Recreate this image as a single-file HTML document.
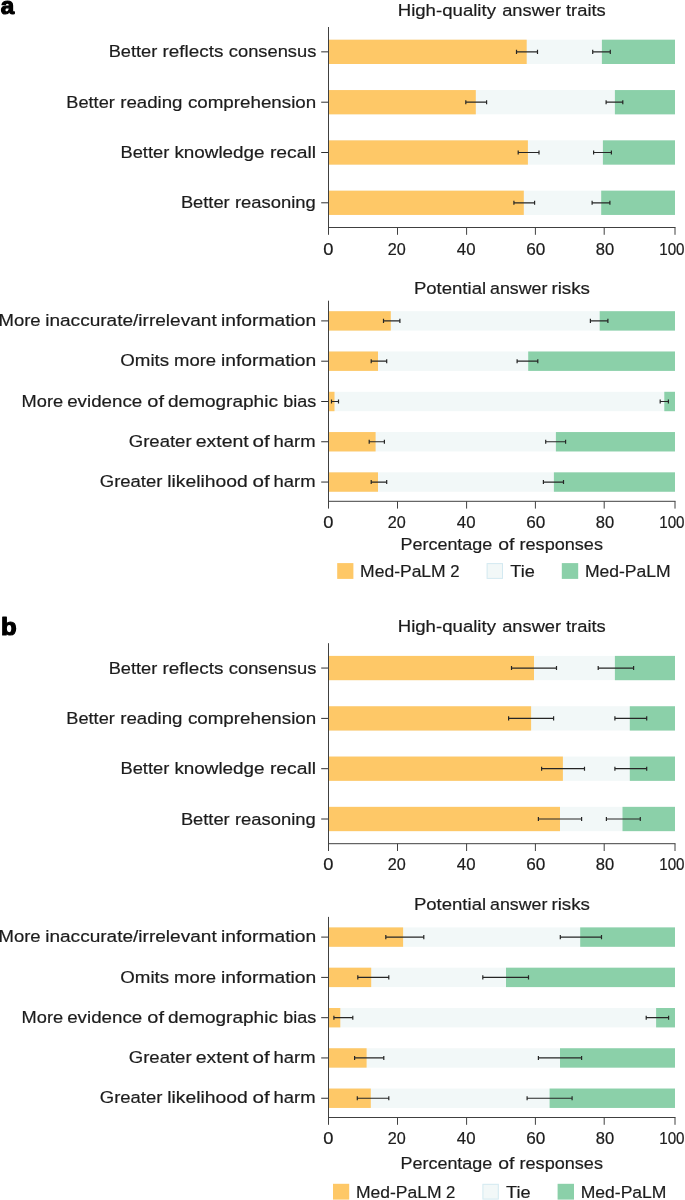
<!DOCTYPE html>
<html><head><meta charset="utf-8"><title>Figure</title>
<style>
html,body{margin:0;padding:0;background:#fff;}
body{width:685px;height:1200px;overflow:hidden;font-family:"Liberation Sans",sans-serif;}
svg{display:block;will-change:transform;}
svg text{font-family:"Liberation Sans",sans-serif;}
</style></head><body>
<svg width="685" height="1200" viewBox="0 0 685 1200">
<rect width="685" height="1200" fill="#ffffff"/>
<text transform="translate(0.7 13.50) scale(1.0 1)" font-size="24.2" font-weight="bold" fill="#000" stroke="#000" stroke-width="1.2" stroke-linejoin="round">a</text>
<text x="397.7" y="15.8" font-size="17.4" textLength="98.3" lengthAdjust="spacingAndGlyphs" fill="#1c1c1c" stroke="#1c1c1c" stroke-width="0.2">High-quality</text><text x="502.2" y="15.8" font-size="17.4" textLength="58.9" lengthAdjust="spacingAndGlyphs" fill="#1c1c1c" stroke="#1c1c1c" stroke-width="0.2">answer</text><text x="566.0" y="15.8" font-size="17.4" textLength="39.8" lengthAdjust="spacingAndGlyphs" fill="#1c1c1c" stroke="#1c1c1c" stroke-width="0.2">traits</text>
<rect x="328.60" y="39.70" width="346.40" height="24.30" fill="#F2F8F8"/>
<rect x="328.60" y="39.70" width="198.10" height="24.30" fill="#FEC867"/>
<rect x="601.90" y="39.70" width="73.10" height="24.30" fill="#8BD0A9"/>
<path d="M516.50 51.85H537.50M516.50 49.80V53.90M537.50 49.80V53.90" stroke="#262626" stroke-width="1.2" fill="none"/>
<path d="M592.70 51.85H610.30M592.70 49.80V53.90M610.30 49.80V53.90" stroke="#262626" stroke-width="1.2" fill="none"/>
<path d="M321.20 51.85L328.50 51.85" stroke="#2e2e2e" stroke-width="1" fill="none"/>
<text x="108.7" y="57.4" font-size="17.4" textLength="48.6" lengthAdjust="spacingAndGlyphs" fill="#1c1c1c" stroke="#1c1c1c" stroke-width="0.2">Better</text><text x="162.6" y="57.4" font-size="17.4" textLength="60.8" lengthAdjust="spacingAndGlyphs" fill="#1c1c1c" stroke="#1c1c1c" stroke-width="0.2">reflects</text><text x="228.8" y="57.4" font-size="17.4" textLength="87.5" lengthAdjust="spacingAndGlyphs" fill="#1c1c1c" stroke="#1c1c1c" stroke-width="0.2">consensus</text>
<rect x="328.60" y="90.05" width="346.40" height="24.30" fill="#F2F8F8"/>
<rect x="328.60" y="90.05" width="147.20" height="24.30" fill="#FEC867"/>
<rect x="614.90" y="90.05" width="60.10" height="24.30" fill="#8BD0A9"/>
<path d="M465.80 102.20H486.60M465.80 100.15V104.25M486.60 100.15V104.25" stroke="#262626" stroke-width="1.2" fill="none"/>
<path d="M606.10 102.20H622.80M606.10 100.15V104.25M622.80 100.15V104.25" stroke="#262626" stroke-width="1.2" fill="none"/>
<path d="M321.20 102.20L328.50 102.20" stroke="#2e2e2e" stroke-width="1" fill="none"/>
<text x="66.3" y="107.7" font-size="17.4" textLength="48.5" lengthAdjust="spacingAndGlyphs" fill="#1c1c1c" stroke="#1c1c1c" stroke-width="0.2">Better</text><text x="120.2" y="107.7" font-size="17.4" textLength="62.3" lengthAdjust="spacingAndGlyphs" fill="#1c1c1c" stroke="#1c1c1c" stroke-width="0.2">reading</text><text x="187.9" y="107.7" font-size="17.4" textLength="128.3" lengthAdjust="spacingAndGlyphs" fill="#1c1c1c" stroke="#1c1c1c" stroke-width="0.2">comprehension</text>
<rect x="328.60" y="140.35" width="346.40" height="24.30" fill="#F2F8F8"/>
<rect x="328.60" y="140.35" width="199.30" height="24.30" fill="#FEC867"/>
<rect x="602.90" y="140.35" width="72.10" height="24.30" fill="#8BD0A9"/>
<path d="M518.20 152.50H539.00M518.20 150.45V154.55M539.00 150.45V154.55" stroke="#262626" stroke-width="1.2" fill="none"/>
<path d="M593.60 152.50H611.40M593.60 150.45V154.55M611.40 150.45V154.55" stroke="#262626" stroke-width="1.2" fill="none"/>
<path d="M321.20 152.50L328.50 152.50" stroke="#2e2e2e" stroke-width="1" fill="none"/>
<text x="120.5" y="158.0" font-size="17.4" textLength="48.8" lengthAdjust="spacingAndGlyphs" fill="#1c1c1c" stroke="#1c1c1c" stroke-width="0.2">Better</text><text x="174.4" y="158.0" font-size="17.4" textLength="90.2" lengthAdjust="spacingAndGlyphs" fill="#1c1c1c" stroke="#1c1c1c" stroke-width="0.2">knowledge</text><text x="269.9" y="158.0" font-size="17.4" textLength="46.1" lengthAdjust="spacingAndGlyphs" fill="#1c1c1c" stroke="#1c1c1c" stroke-width="0.2">recall</text>
<rect x="328.60" y="190.65" width="346.40" height="24.30" fill="#F2F8F8"/>
<rect x="328.60" y="190.65" width="195.20" height="24.30" fill="#FEC867"/>
<rect x="601.20" y="190.65" width="73.80" height="24.30" fill="#8BD0A9"/>
<path d="M513.90 202.80H534.60M513.90 200.75V204.85M534.60 200.75V204.85" stroke="#262626" stroke-width="1.2" fill="none"/>
<path d="M592.10 202.80H609.90M592.10 200.75V204.85M609.90 200.75V204.85" stroke="#262626" stroke-width="1.2" fill="none"/>
<path d="M321.20 202.80L328.50 202.80" stroke="#2e2e2e" stroke-width="1" fill="none"/>
<text x="180.9" y="208.3" font-size="17.4" textLength="48.8" lengthAdjust="spacingAndGlyphs" fill="#1c1c1c" stroke="#1c1c1c" stroke-width="0.2">Better</text><text x="234.9" y="208.3" font-size="17.4" textLength="80.9" lengthAdjust="spacingAndGlyphs" fill="#1c1c1c" stroke="#1c1c1c" stroke-width="0.2">reasoning</text>
<path d="M328.50 27.00L328.50 228.00" stroke="#404040" stroke-width="1" fill="none"/>
<path d="M328.00 227.50L675.50 227.50" stroke="#404040" stroke-width="1" fill="none"/>
<path d="M328.50 227.50L328.50 234.80" stroke="#404040" stroke-width="1" fill="none"/>
<path d="M397.50 227.50L397.50 234.80" stroke="#404040" stroke-width="1" fill="none"/>
<path d="M466.60 227.50L466.60 234.80" stroke="#404040" stroke-width="1" fill="none"/>
<path d="M535.40 227.50L535.40 234.80" stroke="#404040" stroke-width="1" fill="none"/>
<path d="M604.20 227.50L604.20 234.80" stroke="#404040" stroke-width="1" fill="none"/>
<path d="M675.00 227.50L675.00 234.80" stroke="#404040" stroke-width="1" fill="none"/>
<text x="323.2" y="254.7" font-size="15.7" textLength="10.2" lengthAdjust="spacingAndGlyphs" fill="#1c1c1c" stroke="#1c1c1c" stroke-width="0.2">0</text>
<text x="387.7" y="254.7" font-size="15.7" textLength="18.0" lengthAdjust="spacingAndGlyphs" fill="#1c1c1c" stroke="#1c1c1c" stroke-width="0.2">20</text>
<text x="456.8" y="254.7" font-size="15.7" textLength="18.7" lengthAdjust="spacingAndGlyphs" fill="#1c1c1c" stroke="#1c1c1c" stroke-width="0.2">40</text>
<text x="526.3" y="254.7" font-size="15.7" textLength="19.1" lengthAdjust="spacingAndGlyphs" fill="#1c1c1c" stroke="#1c1c1c" stroke-width="0.2">60</text>
<text x="595.8" y="254.7" font-size="15.7" textLength="18.4" lengthAdjust="spacingAndGlyphs" fill="#1c1c1c" stroke="#1c1c1c" stroke-width="0.2">80</text>
<text x="659.2" y="254.7" font-size="15.7" textLength="25.4" lengthAdjust="spacingAndGlyphs" fill="#1c1c1c" stroke="#1c1c1c" stroke-width="0.2">100</text>
<text x="413.9" y="293.6" font-size="17.4" textLength="72.2" lengthAdjust="spacingAndGlyphs" fill="#1c1c1c" stroke="#1c1c1c" stroke-width="0.2">Potential</text><text x="490.0" y="293.6" font-size="17.4" textLength="57.4" lengthAdjust="spacingAndGlyphs" fill="#1c1c1c" stroke="#1c1c1c" stroke-width="0.2">answer</text><text x="551.4" y="293.6" font-size="17.4" textLength="38.6" lengthAdjust="spacingAndGlyphs" fill="#1c1c1c" stroke="#1c1c1c" stroke-width="0.2">risks</text>
<rect x="328.60" y="311.20" width="346.40" height="19.40" fill="#F2F8F8"/>
<rect x="328.60" y="311.20" width="62.20" height="19.40" fill="#FEC867"/>
<rect x="599.70" y="311.20" width="75.30" height="19.40" fill="#8BD0A9"/>
<path d="M383.50 320.90H399.90M383.50 318.85V322.95M399.90 318.85V322.95" stroke="#262626" stroke-width="1.2" fill="none"/>
<path d="M590.40 320.90H607.90M590.40 318.85V322.95M607.90 318.85V322.95" stroke="#262626" stroke-width="1.2" fill="none"/>
<path d="M321.20 320.90L328.50 320.90" stroke="#2e2e2e" stroke-width="1" fill="none"/>
<text x="-1.5" y="326.0" font-size="17.4" textLength="42.1" lengthAdjust="spacingAndGlyphs" fill="#1c1c1c" stroke="#1c1c1c" stroke-width="0.2">More</text><text x="45.2" y="326.0" font-size="17.4" textLength="171.5" lengthAdjust="spacingAndGlyphs" fill="#1c1c1c" stroke="#1c1c1c" stroke-width="0.2">inaccurate/irrelevant</text><text x="221.0" y="326.0" font-size="17.4" textLength="95.3" lengthAdjust="spacingAndGlyphs" fill="#1c1c1c" stroke="#1c1c1c" stroke-width="0.2">information</text>
<rect x="328.60" y="351.50" width="346.40" height="19.40" fill="#F2F8F8"/>
<rect x="328.60" y="351.50" width="49.40" height="19.40" fill="#FEC867"/>
<rect x="528.20" y="351.50" width="146.80" height="19.40" fill="#8BD0A9"/>
<path d="M371.20 361.20H386.70M371.20 359.15V363.25M386.70 359.15V363.25" stroke="#262626" stroke-width="1.2" fill="none"/>
<path d="M517.10 361.20H537.80M517.10 359.15V363.25M537.80 359.15V363.25" stroke="#262626" stroke-width="1.2" fill="none"/>
<path d="M321.20 361.20L328.50 361.20" stroke="#2e2e2e" stroke-width="1" fill="none"/>
<text x="120.3" y="366.3" font-size="17.4" textLength="48.8" lengthAdjust="spacingAndGlyphs" fill="#1c1c1c" stroke="#1c1c1c" stroke-width="0.2">Omits</text><text x="174.0" y="366.3" font-size="17.4" textLength="42.1" lengthAdjust="spacingAndGlyphs" fill="#1c1c1c" stroke="#1c1c1c" stroke-width="0.2">more</text><text x="221.0" y="366.3" font-size="17.4" textLength="95.3" lengthAdjust="spacingAndGlyphs" fill="#1c1c1c" stroke="#1c1c1c" stroke-width="0.2">information</text>
<rect x="328.60" y="391.80" width="346.40" height="19.40" fill="#F2F8F8"/>
<rect x="328.60" y="391.80" width="5.90" height="19.40" fill="#FEC867"/>
<rect x="664.30" y="391.80" width="10.70" height="19.40" fill="#8BD0A9"/>
<path d="M331.50 401.50H338.50M331.50 399.45V403.55M338.50 399.45V403.55" stroke="#262626" stroke-width="1.2" fill="none"/>
<path d="M660.20 401.50H668.40M660.20 399.45V403.55M668.40 399.45V403.55" stroke="#262626" stroke-width="1.2" fill="none"/>
<path d="M321.20 401.50L328.50 401.50" stroke="#2e2e2e" stroke-width="1" fill="none"/>
<text x="21.6" y="406.6" font-size="17.4" textLength="41.5" lengthAdjust="spacingAndGlyphs" fill="#1c1c1c" stroke="#1c1c1c" stroke-width="0.2">More</text><text x="67.2" y="406.6" font-size="17.4" textLength="75.0" lengthAdjust="spacingAndGlyphs" fill="#1c1c1c" stroke="#1c1c1c" stroke-width="0.2">evidence</text><text x="147.3" y="406.6" font-size="17.4" textLength="16.7" lengthAdjust="spacingAndGlyphs" fill="#1c1c1c" stroke="#1c1c1c" stroke-width="0.2">of</text><text x="168.0" y="406.6" font-size="17.4" textLength="109.9" lengthAdjust="spacingAndGlyphs" fill="#1c1c1c" stroke="#1c1c1c" stroke-width="0.2">demographic</text><text x="283.3" y="406.6" font-size="17.4" textLength="33.0" lengthAdjust="spacingAndGlyphs" fill="#1c1c1c" stroke="#1c1c1c" stroke-width="0.2">bias</text>
<rect x="328.60" y="432.05" width="346.40" height="19.40" fill="#F2F8F8"/>
<rect x="328.60" y="432.05" width="47.00" height="19.40" fill="#FEC867"/>
<rect x="555.90" y="432.05" width="119.10" height="19.40" fill="#8BD0A9"/>
<path d="M369.20 441.75H384.40M369.20 439.70V443.80M384.40 439.70V443.80" stroke="#262626" stroke-width="1.2" fill="none"/>
<path d="M545.70 441.75H565.60M545.70 439.70V443.80M565.60 439.70V443.80" stroke="#262626" stroke-width="1.2" fill="none"/>
<path d="M321.20 441.75L328.50 441.75" stroke="#2e2e2e" stroke-width="1" fill="none"/>
<text x="128.8" y="446.9" font-size="17.4" textLength="62.8" lengthAdjust="spacingAndGlyphs" fill="#1c1c1c" stroke="#1c1c1c" stroke-width="0.2">Greater</text><text x="195.7" y="446.9" font-size="17.4" textLength="53.0" lengthAdjust="spacingAndGlyphs" fill="#1c1c1c" stroke="#1c1c1c" stroke-width="0.2">extent</text><text x="252.6" y="446.9" font-size="17.4" textLength="17.2" lengthAdjust="spacingAndGlyphs" fill="#1c1c1c" stroke="#1c1c1c" stroke-width="0.2">of</text><text x="273.6" y="446.9" font-size="17.4" textLength="42.0" lengthAdjust="spacingAndGlyphs" fill="#1c1c1c" stroke="#1c1c1c" stroke-width="0.2">harm</text>
<rect x="328.60" y="472.35" width="346.40" height="19.40" fill="#F2F8F8"/>
<rect x="328.60" y="472.35" width="49.40" height="19.40" fill="#FEC867"/>
<rect x="553.90" y="472.35" width="121.10" height="19.40" fill="#8BD0A9"/>
<path d="M371.20 482.05H386.70M371.20 480.00V484.10M386.70 480.00V484.10" stroke="#262626" stroke-width="1.2" fill="none"/>
<path d="M543.40 482.05H563.50M543.40 480.00V484.10M563.50 480.00V484.10" stroke="#262626" stroke-width="1.2" fill="none"/>
<path d="M321.20 482.05L328.50 482.05" stroke="#2e2e2e" stroke-width="1" fill="none"/>
<text x="99.8" y="487.2" font-size="17.4" textLength="62.6" lengthAdjust="spacingAndGlyphs" fill="#1c1c1c" stroke="#1c1c1c" stroke-width="0.2">Greater</text><text x="167.2" y="487.2" font-size="17.4" textLength="80.5" lengthAdjust="spacingAndGlyphs" fill="#1c1c1c" stroke="#1c1c1c" stroke-width="0.2">likelihood</text><text x="252.6" y="487.2" font-size="17.4" textLength="17.2" lengthAdjust="spacingAndGlyphs" fill="#1c1c1c" stroke="#1c1c1c" stroke-width="0.2">of</text><text x="273.6" y="487.2" font-size="17.4" textLength="42.0" lengthAdjust="spacingAndGlyphs" fill="#1c1c1c" stroke="#1c1c1c" stroke-width="0.2">harm</text>
<path d="M328.50 300.70L328.50 501.80" stroke="#404040" stroke-width="1" fill="none"/>
<path d="M328.00 501.30L675.50 501.30" stroke="#404040" stroke-width="1" fill="none"/>
<path d="M328.50 501.30L328.50 508.60" stroke="#404040" stroke-width="1" fill="none"/>
<path d="M397.50 501.30L397.50 508.60" stroke="#404040" stroke-width="1" fill="none"/>
<path d="M466.60 501.30L466.60 508.60" stroke="#404040" stroke-width="1" fill="none"/>
<path d="M535.40 501.30L535.40 508.60" stroke="#404040" stroke-width="1" fill="none"/>
<path d="M604.20 501.30L604.20 508.60" stroke="#404040" stroke-width="1" fill="none"/>
<path d="M675.00 501.30L675.00 508.60" stroke="#404040" stroke-width="1" fill="none"/>
<text x="323.2" y="528.0" font-size="15.7" textLength="10.2" lengthAdjust="spacingAndGlyphs" fill="#1c1c1c" stroke="#1c1c1c" stroke-width="0.2">0</text>
<text x="387.7" y="528.0" font-size="15.7" textLength="18.0" lengthAdjust="spacingAndGlyphs" fill="#1c1c1c" stroke="#1c1c1c" stroke-width="0.2">20</text>
<text x="456.8" y="528.0" font-size="15.7" textLength="18.7" lengthAdjust="spacingAndGlyphs" fill="#1c1c1c" stroke="#1c1c1c" stroke-width="0.2">40</text>
<text x="526.3" y="528.0" font-size="15.7" textLength="19.1" lengthAdjust="spacingAndGlyphs" fill="#1c1c1c" stroke="#1c1c1c" stroke-width="0.2">60</text>
<text x="595.8" y="528.0" font-size="15.7" textLength="18.4" lengthAdjust="spacingAndGlyphs" fill="#1c1c1c" stroke="#1c1c1c" stroke-width="0.2">80</text>
<text x="659.2" y="528.0" font-size="15.7" textLength="25.4" lengthAdjust="spacingAndGlyphs" fill="#1c1c1c" stroke="#1c1c1c" stroke-width="0.2">100</text>
<text x="400.5" y="550.0" font-size="17.4" textLength="91.8" lengthAdjust="spacingAndGlyphs" fill="#1c1c1c" stroke="#1c1c1c" stroke-width="0.2">Percentage</text><text x="498.3" y="550.0" font-size="17.4" textLength="16.2" lengthAdjust="spacingAndGlyphs" fill="#1c1c1c" stroke="#1c1c1c" stroke-width="0.2">of</text><text x="519.5" y="550.0" font-size="17.4" textLength="83.5" lengthAdjust="spacingAndGlyphs" fill="#1c1c1c" stroke="#1c1c1c" stroke-width="0.2">responses</text>
<rect x="337.20" y="563.10" width="16.20" height="15.80" fill="#FEC867"/>
<text x="360.1" y="576.8" font-size="17.4" textLength="85.6" lengthAdjust="spacingAndGlyphs" fill="#1c1c1c" stroke="#1c1c1c" stroke-width="0.2">Med-PaLM</text><text x="450.3" y="576.8" font-size="17.4" textLength="9.3" lengthAdjust="spacingAndGlyphs" fill="#1c1c1c" stroke="#1c1c1c" stroke-width="0.2">2</text>
<rect x="487.10" y="563.60" width="15.4" height="14.8" fill="#F2F8F8" stroke="#D3E9F1" stroke-width="1"/>
<text x="510.3" y="576.8" font-size="17.4" textLength="24.5" lengthAdjust="spacingAndGlyphs" fill="#1c1c1c" stroke="#1c1c1c" stroke-width="0.2">Tie</text>
<rect x="561.80" y="563.10" width="16.40" height="15.80" fill="#8BD0A9"/>
<text x="584.9" y="576.8" font-size="17.4" textLength="85.8" lengthAdjust="spacingAndGlyphs" fill="#1c1c1c" stroke="#1c1c1c" stroke-width="0.2">Med-PaLM</text>
<text transform="translate(1.0 635.00) scale(1.06 1)" font-size="24.2" font-weight="bold" fill="#000" stroke="#000" stroke-width="1.2" stroke-linejoin="round">b</text>
<text x="397.7" y="632.0" font-size="17.4" textLength="98.3" lengthAdjust="spacingAndGlyphs" fill="#1c1c1c" stroke="#1c1c1c" stroke-width="0.2">High-quality</text><text x="502.2" y="632.0" font-size="17.4" textLength="58.9" lengthAdjust="spacingAndGlyphs" fill="#1c1c1c" stroke="#1c1c1c" stroke-width="0.2">answer</text><text x="566.0" y="632.0" font-size="17.4" textLength="39.8" lengthAdjust="spacingAndGlyphs" fill="#1c1c1c" stroke="#1c1c1c" stroke-width="0.2">traits</text>
<rect x="328.60" y="655.90" width="346.40" height="24.30" fill="#F2F8F8"/>
<rect x="328.60" y="655.90" width="205.40" height="24.30" fill="#FEC867"/>
<rect x="614.90" y="655.90" width="60.10" height="24.30" fill="#8BD0A9"/>
<path d="M511.50 668.05H556.50M511.50 666.00V670.10M556.50 666.00V670.10" stroke="#262626" stroke-width="1.2" fill="none"/>
<path d="M598.20 668.05H633.60M598.20 666.00V670.10M633.60 666.00V670.10" stroke="#262626" stroke-width="1.2" fill="none"/>
<path d="M321.20 668.05L328.50 668.05" stroke="#2e2e2e" stroke-width="1" fill="none"/>
<text x="108.7" y="673.6" font-size="17.4" textLength="48.6" lengthAdjust="spacingAndGlyphs" fill="#1c1c1c" stroke="#1c1c1c" stroke-width="0.2">Better</text><text x="162.6" y="673.6" font-size="17.4" textLength="60.8" lengthAdjust="spacingAndGlyphs" fill="#1c1c1c" stroke="#1c1c1c" stroke-width="0.2">reflects</text><text x="228.8" y="673.6" font-size="17.4" textLength="87.5" lengthAdjust="spacingAndGlyphs" fill="#1c1c1c" stroke="#1c1c1c" stroke-width="0.2">consensus</text>
<rect x="328.60" y="706.25" width="346.40" height="24.30" fill="#F2F8F8"/>
<rect x="328.60" y="706.25" width="202.50" height="24.30" fill="#FEC867"/>
<rect x="629.80" y="706.25" width="45.20" height="24.30" fill="#8BD0A9"/>
<path d="M508.60 718.40H553.60M508.60 716.35V720.45M553.60 716.35V720.45" stroke="#262626" stroke-width="1.2" fill="none"/>
<path d="M614.90 718.40H646.70M614.90 716.35V720.45M646.70 716.35V720.45" stroke="#262626" stroke-width="1.2" fill="none"/>
<path d="M321.20 718.40L328.50 718.40" stroke="#2e2e2e" stroke-width="1" fill="none"/>
<text x="66.3" y="723.9" font-size="17.4" textLength="48.5" lengthAdjust="spacingAndGlyphs" fill="#1c1c1c" stroke="#1c1c1c" stroke-width="0.2">Better</text><text x="120.2" y="723.9" font-size="17.4" textLength="62.3" lengthAdjust="spacingAndGlyphs" fill="#1c1c1c" stroke="#1c1c1c" stroke-width="0.2">reading</text><text x="187.9" y="723.9" font-size="17.4" textLength="128.3" lengthAdjust="spacingAndGlyphs" fill="#1c1c1c" stroke="#1c1c1c" stroke-width="0.2">comprehension</text>
<rect x="328.60" y="756.55" width="346.40" height="24.30" fill="#F2F8F8"/>
<rect x="328.60" y="756.55" width="234.30" height="24.30" fill="#FEC867"/>
<rect x="629.80" y="756.55" width="45.20" height="24.30" fill="#8BD0A9"/>
<path d="M541.60 768.70H584.50M541.60 766.65V770.75M584.50 766.65V770.75" stroke="#262626" stroke-width="1.2" fill="none"/>
<path d="M614.90 768.70H646.70M614.90 766.65V770.75M646.70 766.65V770.75" stroke="#262626" stroke-width="1.2" fill="none"/>
<path d="M321.20 768.70L328.50 768.70" stroke="#2e2e2e" stroke-width="1" fill="none"/>
<text x="120.5" y="774.2" font-size="17.4" textLength="48.8" lengthAdjust="spacingAndGlyphs" fill="#1c1c1c" stroke="#1c1c1c" stroke-width="0.2">Better</text><text x="174.4" y="774.2" font-size="17.4" textLength="90.2" lengthAdjust="spacingAndGlyphs" fill="#1c1c1c" stroke="#1c1c1c" stroke-width="0.2">knowledge</text><text x="269.9" y="774.2" font-size="17.4" textLength="46.1" lengthAdjust="spacingAndGlyphs" fill="#1c1c1c" stroke="#1c1c1c" stroke-width="0.2">recall</text>
<rect x="328.60" y="806.85" width="346.40" height="24.30" fill="#F2F8F8"/>
<rect x="328.60" y="806.85" width="231.40" height="24.30" fill="#FEC867"/>
<rect x="622.50" y="806.85" width="52.50" height="24.30" fill="#8BD0A9"/>
<path d="M538.40 819.00H581.60M538.40 816.95V821.05M581.60 816.95V821.05" stroke="#262626" stroke-width="1.2" fill="none"/>
<path d="M606.40 819.00H640.30M606.40 816.95V821.05M640.30 816.95V821.05" stroke="#262626" stroke-width="1.2" fill="none"/>
<path d="M321.20 819.00L328.50 819.00" stroke="#2e2e2e" stroke-width="1" fill="none"/>
<text x="180.9" y="824.5" font-size="17.4" textLength="48.8" lengthAdjust="spacingAndGlyphs" fill="#1c1c1c" stroke="#1c1c1c" stroke-width="0.2">Better</text><text x="234.9" y="824.5" font-size="17.4" textLength="80.9" lengthAdjust="spacingAndGlyphs" fill="#1c1c1c" stroke="#1c1c1c" stroke-width="0.2">reasoning</text>
<path d="M328.50 643.20L328.50 844.20" stroke="#404040" stroke-width="1" fill="none"/>
<path d="M328.00 843.70L675.50 843.70" stroke="#404040" stroke-width="1" fill="none"/>
<path d="M328.50 843.70L328.50 851.00" stroke="#404040" stroke-width="1" fill="none"/>
<path d="M397.50 843.70L397.50 851.00" stroke="#404040" stroke-width="1" fill="none"/>
<path d="M466.60 843.70L466.60 851.00" stroke="#404040" stroke-width="1" fill="none"/>
<path d="M535.40 843.70L535.40 851.00" stroke="#404040" stroke-width="1" fill="none"/>
<path d="M604.20 843.70L604.20 851.00" stroke="#404040" stroke-width="1" fill="none"/>
<path d="M675.00 843.70L675.00 851.00" stroke="#404040" stroke-width="1" fill="none"/>
<text x="323.2" y="870.0" font-size="15.7" textLength="10.2" lengthAdjust="spacingAndGlyphs" fill="#1c1c1c" stroke="#1c1c1c" stroke-width="0.2">0</text>
<text x="387.7" y="870.0" font-size="15.7" textLength="18.0" lengthAdjust="spacingAndGlyphs" fill="#1c1c1c" stroke="#1c1c1c" stroke-width="0.2">20</text>
<text x="456.8" y="870.0" font-size="15.7" textLength="18.7" lengthAdjust="spacingAndGlyphs" fill="#1c1c1c" stroke="#1c1c1c" stroke-width="0.2">40</text>
<text x="526.3" y="870.0" font-size="15.7" textLength="19.1" lengthAdjust="spacingAndGlyphs" fill="#1c1c1c" stroke="#1c1c1c" stroke-width="0.2">60</text>
<text x="595.8" y="870.0" font-size="15.7" textLength="18.4" lengthAdjust="spacingAndGlyphs" fill="#1c1c1c" stroke="#1c1c1c" stroke-width="0.2">80</text>
<text x="659.2" y="870.0" font-size="15.7" textLength="25.4" lengthAdjust="spacingAndGlyphs" fill="#1c1c1c" stroke="#1c1c1c" stroke-width="0.2">100</text>
<text x="413.9" y="909.8" font-size="17.4" textLength="72.2" lengthAdjust="spacingAndGlyphs" fill="#1c1c1c" stroke="#1c1c1c" stroke-width="0.2">Potential</text><text x="490.0" y="909.8" font-size="17.4" textLength="57.4" lengthAdjust="spacingAndGlyphs" fill="#1c1c1c" stroke="#1c1c1c" stroke-width="0.2">answer</text><text x="551.4" y="909.8" font-size="17.4" textLength="38.6" lengthAdjust="spacingAndGlyphs" fill="#1c1c1c" stroke="#1c1c1c" stroke-width="0.2">risks</text>
<rect x="328.60" y="927.40" width="346.40" height="19.40" fill="#F2F8F8"/>
<rect x="328.60" y="927.40" width="74.50" height="19.40" fill="#FEC867"/>
<rect x="580.20" y="927.40" width="94.80" height="19.40" fill="#8BD0A9"/>
<path d="M385.80 937.10H423.80M385.80 935.05V939.15M423.80 935.05V939.15" stroke="#262626" stroke-width="1.2" fill="none"/>
<path d="M560.30 937.10H601.50M560.30 935.05V939.15M601.50 935.05V939.15" stroke="#262626" stroke-width="1.2" fill="none"/>
<path d="M321.20 937.10L328.50 937.10" stroke="#2e2e2e" stroke-width="1" fill="none"/>
<text x="-1.5" y="942.2" font-size="17.4" textLength="42.1" lengthAdjust="spacingAndGlyphs" fill="#1c1c1c" stroke="#1c1c1c" stroke-width="0.2">More</text><text x="45.2" y="942.2" font-size="17.4" textLength="171.5" lengthAdjust="spacingAndGlyphs" fill="#1c1c1c" stroke="#1c1c1c" stroke-width="0.2">inaccurate/irrelevant</text><text x="221.0" y="942.2" font-size="17.4" textLength="95.3" lengthAdjust="spacingAndGlyphs" fill="#1c1c1c" stroke="#1c1c1c" stroke-width="0.2">information</text>
<rect x="328.60" y="967.70" width="346.40" height="19.40" fill="#F2F8F8"/>
<rect x="328.60" y="967.70" width="42.60" height="19.40" fill="#FEC867"/>
<rect x="506.00" y="967.70" width="169.00" height="19.40" fill="#8BD0A9"/>
<path d="M357.80 977.40H388.80M357.80 975.35V979.45M388.80 975.35V979.45" stroke="#262626" stroke-width="1.2" fill="none"/>
<path d="M482.80 977.40H528.50M482.80 975.35V979.45M528.50 975.35V979.45" stroke="#262626" stroke-width="1.2" fill="none"/>
<path d="M321.20 977.40L328.50 977.40" stroke="#2e2e2e" stroke-width="1" fill="none"/>
<text x="120.3" y="982.5" font-size="17.4" textLength="48.8" lengthAdjust="spacingAndGlyphs" fill="#1c1c1c" stroke="#1c1c1c" stroke-width="0.2">Omits</text><text x="174.0" y="982.5" font-size="17.4" textLength="42.1" lengthAdjust="spacingAndGlyphs" fill="#1c1c1c" stroke="#1c1c1c" stroke-width="0.2">more</text><text x="221.0" y="982.5" font-size="17.4" textLength="95.3" lengthAdjust="spacingAndGlyphs" fill="#1c1c1c" stroke="#1c1c1c" stroke-width="0.2">information</text>
<rect x="328.60" y="1008.00" width="346.40" height="19.40" fill="#F2F8F8"/>
<rect x="328.60" y="1008.00" width="11.70" height="19.40" fill="#FEC867"/>
<rect x="656.10" y="1008.00" width="18.90" height="19.40" fill="#8BD0A9"/>
<path d="M333.90 1017.70H352.80M333.90 1015.65V1019.75M352.80 1015.65V1019.75" stroke="#262626" stroke-width="1.2" fill="none"/>
<path d="M646.20 1017.70H668.60M646.20 1015.65V1019.75M668.60 1015.65V1019.75" stroke="#262626" stroke-width="1.2" fill="none"/>
<path d="M321.20 1017.70L328.50 1017.70" stroke="#2e2e2e" stroke-width="1" fill="none"/>
<text x="21.6" y="1022.8" font-size="17.4" textLength="41.5" lengthAdjust="spacingAndGlyphs" fill="#1c1c1c" stroke="#1c1c1c" stroke-width="0.2">More</text><text x="67.2" y="1022.8" font-size="17.4" textLength="75.0" lengthAdjust="spacingAndGlyphs" fill="#1c1c1c" stroke="#1c1c1c" stroke-width="0.2">evidence</text><text x="147.3" y="1022.8" font-size="17.4" textLength="16.7" lengthAdjust="spacingAndGlyphs" fill="#1c1c1c" stroke="#1c1c1c" stroke-width="0.2">of</text><text x="168.0" y="1022.8" font-size="17.4" textLength="109.9" lengthAdjust="spacingAndGlyphs" fill="#1c1c1c" stroke="#1c1c1c" stroke-width="0.2">demographic</text><text x="283.3" y="1022.8" font-size="17.4" textLength="33.0" lengthAdjust="spacingAndGlyphs" fill="#1c1c1c" stroke="#1c1c1c" stroke-width="0.2">bias</text>
<rect x="328.60" y="1048.25" width="346.40" height="19.40" fill="#F2F8F8"/>
<rect x="328.60" y="1048.25" width="38.00" height="19.40" fill="#FEC867"/>
<rect x="560.00" y="1048.25" width="115.00" height="19.40" fill="#8BD0A9"/>
<path d="M354.60 1057.95H383.80M354.60 1055.90V1060.00M383.80 1055.90V1060.00" stroke="#262626" stroke-width="1.2" fill="none"/>
<path d="M538.40 1057.95H581.60M538.40 1055.90V1060.00M581.60 1055.90V1060.00" stroke="#262626" stroke-width="1.2" fill="none"/>
<path d="M321.20 1057.95L328.50 1057.95" stroke="#2e2e2e" stroke-width="1" fill="none"/>
<text x="128.8" y="1063.0" font-size="17.4" textLength="62.8" lengthAdjust="spacingAndGlyphs" fill="#1c1c1c" stroke="#1c1c1c" stroke-width="0.2">Greater</text><text x="195.7" y="1063.0" font-size="17.4" textLength="53.0" lengthAdjust="spacingAndGlyphs" fill="#1c1c1c" stroke="#1c1c1c" stroke-width="0.2">extent</text><text x="252.6" y="1063.0" font-size="17.4" textLength="17.2" lengthAdjust="spacingAndGlyphs" fill="#1c1c1c" stroke="#1c1c1c" stroke-width="0.2">of</text><text x="273.6" y="1063.0" font-size="17.4" textLength="42.0" lengthAdjust="spacingAndGlyphs" fill="#1c1c1c" stroke="#1c1c1c" stroke-width="0.2">harm</text>
<rect x="328.60" y="1088.55" width="346.40" height="19.40" fill="#F2F8F8"/>
<rect x="328.60" y="1088.55" width="42.20" height="19.40" fill="#FEC867"/>
<rect x="549.60" y="1088.55" width="125.40" height="19.40" fill="#8BD0A9"/>
<path d="M357.30 1098.25H388.80M357.30 1096.20V1100.30M388.80 1096.20V1100.30" stroke="#262626" stroke-width="1.2" fill="none"/>
<path d="M527.10 1098.25H572.10M527.10 1096.20V1100.30M572.10 1096.20V1100.30" stroke="#262626" stroke-width="1.2" fill="none"/>
<path d="M321.20 1098.25L328.50 1098.25" stroke="#2e2e2e" stroke-width="1" fill="none"/>
<text x="99.8" y="1103.4" font-size="17.4" textLength="62.6" lengthAdjust="spacingAndGlyphs" fill="#1c1c1c" stroke="#1c1c1c" stroke-width="0.2">Greater</text><text x="167.2" y="1103.4" font-size="17.4" textLength="80.5" lengthAdjust="spacingAndGlyphs" fill="#1c1c1c" stroke="#1c1c1c" stroke-width="0.2">likelihood</text><text x="252.6" y="1103.4" font-size="17.4" textLength="17.2" lengthAdjust="spacingAndGlyphs" fill="#1c1c1c" stroke="#1c1c1c" stroke-width="0.2">of</text><text x="273.6" y="1103.4" font-size="17.4" textLength="42.0" lengthAdjust="spacingAndGlyphs" fill="#1c1c1c" stroke="#1c1c1c" stroke-width="0.2">harm</text>
<path d="M328.50 916.90L328.50 1118.00" stroke="#404040" stroke-width="1" fill="none"/>
<path d="M328.00 1117.50L675.50 1117.50" stroke="#404040" stroke-width="1" fill="none"/>
<path d="M328.50 1117.50L328.50 1124.80" stroke="#404040" stroke-width="1" fill="none"/>
<path d="M397.50 1117.50L397.50 1124.80" stroke="#404040" stroke-width="1" fill="none"/>
<path d="M466.60 1117.50L466.60 1124.80" stroke="#404040" stroke-width="1" fill="none"/>
<path d="M535.40 1117.50L535.40 1124.80" stroke="#404040" stroke-width="1" fill="none"/>
<path d="M604.20 1117.50L604.20 1124.80" stroke="#404040" stroke-width="1" fill="none"/>
<path d="M675.00 1117.50L675.00 1124.80" stroke="#404040" stroke-width="1" fill="none"/>
<text x="323.2" y="1143.6" font-size="15.7" textLength="10.2" lengthAdjust="spacingAndGlyphs" fill="#1c1c1c" stroke="#1c1c1c" stroke-width="0.2">0</text>
<text x="387.7" y="1143.6" font-size="15.7" textLength="18.0" lengthAdjust="spacingAndGlyphs" fill="#1c1c1c" stroke="#1c1c1c" stroke-width="0.2">20</text>
<text x="456.8" y="1143.6" font-size="15.7" textLength="18.7" lengthAdjust="spacingAndGlyphs" fill="#1c1c1c" stroke="#1c1c1c" stroke-width="0.2">40</text>
<text x="526.3" y="1143.6" font-size="15.7" textLength="19.1" lengthAdjust="spacingAndGlyphs" fill="#1c1c1c" stroke="#1c1c1c" stroke-width="0.2">60</text>
<text x="595.8" y="1143.6" font-size="15.7" textLength="18.4" lengthAdjust="spacingAndGlyphs" fill="#1c1c1c" stroke="#1c1c1c" stroke-width="0.2">80</text>
<text x="659.2" y="1143.6" font-size="15.7" textLength="25.4" lengthAdjust="spacingAndGlyphs" fill="#1c1c1c" stroke="#1c1c1c" stroke-width="0.2">100</text>
<text x="400.5" y="1169.3" font-size="17.4" textLength="91.8" lengthAdjust="spacingAndGlyphs" fill="#1c1c1c" stroke="#1c1c1c" stroke-width="0.2">Percentage</text><text x="498.3" y="1169.3" font-size="17.4" textLength="16.2" lengthAdjust="spacingAndGlyphs" fill="#1c1c1c" stroke="#1c1c1c" stroke-width="0.2">of</text><text x="519.5" y="1169.3" font-size="17.4" textLength="83.5" lengthAdjust="spacingAndGlyphs" fill="#1c1c1c" stroke="#1c1c1c" stroke-width="0.2">responses</text>
<rect x="333.00" y="1183.80" width="16.20" height="15.80" fill="#FEC867"/>
<text x="355.9" y="1197.5" font-size="17.4" textLength="85.6" lengthAdjust="spacingAndGlyphs" fill="#1c1c1c" stroke="#1c1c1c" stroke-width="0.2">Med-PaLM</text><text x="446.1" y="1197.5" font-size="17.4" textLength="9.3" lengthAdjust="spacingAndGlyphs" fill="#1c1c1c" stroke="#1c1c1c" stroke-width="0.2">2</text>
<rect x="482.90" y="1184.30" width="15.4" height="14.8" fill="#F2F8F8" stroke="#D3E9F1" stroke-width="1"/>
<text x="506.1" y="1197.5" font-size="17.4" textLength="24.5" lengthAdjust="spacingAndGlyphs" fill="#1c1c1c" stroke="#1c1c1c" stroke-width="0.2">Tie</text>
<rect x="557.60" y="1183.80" width="16.40" height="15.80" fill="#8BD0A9"/>
<text x="580.7" y="1197.5" font-size="17.4" textLength="85.8" lengthAdjust="spacingAndGlyphs" fill="#1c1c1c" stroke="#1c1c1c" stroke-width="0.2">Med-PaLM</text>
</svg>
</body></html>
